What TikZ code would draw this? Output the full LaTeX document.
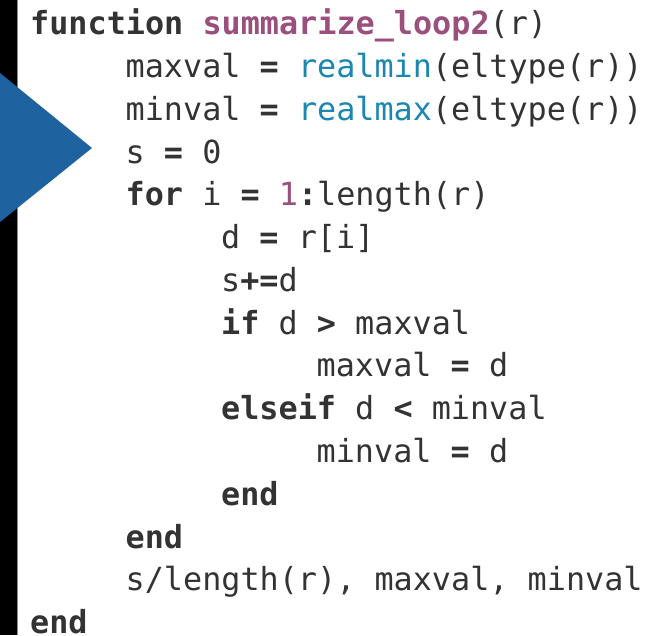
\documentclass[tikz,border=0pt]{standalone}
\usepackage{fontspec}
\newfontfamily\codefont{DejaVu Sans Mono}
\definecolor{codegray}{HTML}{333333}
\definecolor{fnpurple}{HTML}{9A4F7D}
\definecolor{builtin}{HTML}{1B87B0}
\definecolor{tri}{HTML}{1F62A0}
\definecolor{edge}{HTML}{8A8A8A}
\newcommand{\kw}[1]{\textbf{#1}}
\newcommand{\op}[1]{\textbf{#1}}
\begin{document}
\begin{tikzpicture}[x=1pt,y=1pt,
  code/.style={anchor=base west, inner sep=0pt, font=\codefont\fontsize{31.8}{40}\selectfont, text=codegray}]
\fill[white] (0,0) rectangle (656,635);
\useasboundingbox (0,0) rectangle (656,635);
\fill[black] (0,0) rectangle (17,635);
\draw[edge, line width=1.2pt] (17.6,0) -- (17.6,635);
\fill[tri] (0,562) -- (92,487) -- (0,413) -- cycle;
\def\lx{30}
\def\st{95.5}
\node[code] (l0) at (\lx+0*\st, 600-0*42.75) {\kw{function} \textcolor{fnpurple}{\textbf{summarize\_loop2}}(r)};
\node[code] (l1) at (\lx+1*\st, 600-1*42.75) {maxval \op{=} \textcolor{builtin}{realmin}(eltype(r))};
\node[code] (l2) at (\lx+1*\st, 600-2*42.75) {minval \op{=} \textcolor{builtin}{realmax}(eltype(r))};
\node[code] (l3) at (\lx+1*\st, 600-3*42.75) {s \op{=} 0};
\node[code] (l4) at (\lx+1*\st, 600-4*42.75) {\kw{for} i \op{=} \textcolor{fnpurple}{1}\op{:}length(r)};
\node[code] (l5) at (\lx+2*\st, 600-5*42.75) {d \op{=} r[i]};
\node[code] (l6) at (\lx+2*\st, 600-6*42.75) {s\op{+=}d};
\node[code] (l7) at (\lx+2*\st, 600-7*42.75) {\kw{if} d \op{>} maxval};
\node[code] (l8) at (\lx+3*\st, 600-8*42.75) {maxval \op{=} d};
\node[code] (l9) at (\lx+2*\st, 600-9*42.75) {\kw{elseif} d \op{<} minval};
\node[code] (l10) at (\lx+3*\st, 600-10*42.75) {minval \op{=} d};
\node[code] (l11) at (\lx+2*\st, 600-11*42.75) {\kw{end}};
\node[code] (l12) at (\lx+1*\st, 600-12*42.75) {\kw{end}};
\node[code] (l13) at (\lx+1*\st, 600-13*42.75) {s/length(r), maxval, minval};
\node[code] (l14) at (\lx+0*\st, 600-14*42.75) {\kw{end}};
\end{tikzpicture}
\end{document}
